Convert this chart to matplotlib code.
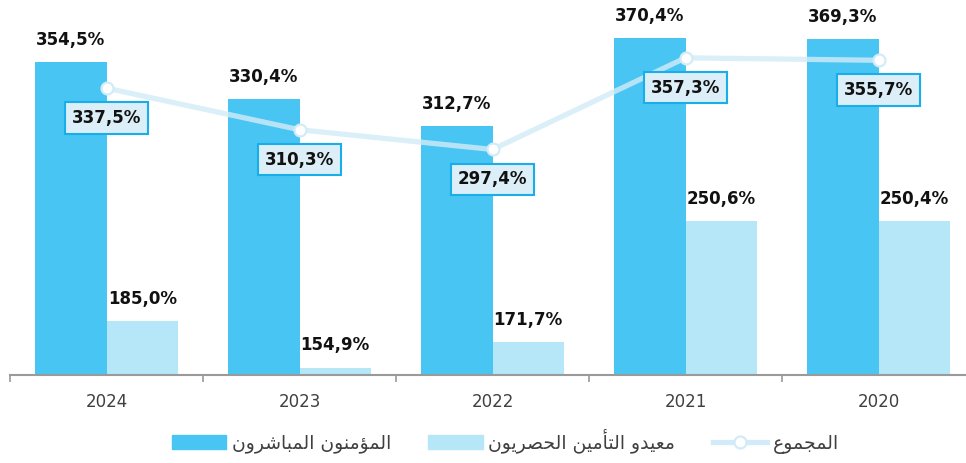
import matplotlib
matplotlib.use("Agg")
import matplotlib.pyplot as plt
import numpy as np
from matplotlib.lines import Line2D
from matplotlib.patches import Patch

years = ["2024", "2023", "2022", "2021", "2020"]
direct_insurers = [354.5, 330.4, 312.7, 370.4, 369.3]
exclusive_reinsurers = [185.0, 154.9, 171.7, 250.6, 250.4]
total = [337.5, 310.3, 297.4, 357.3, 355.7]
series_names = ["المؤمنون المباشرون", "معيدو التأمين الحصريون", "المجموع"]

DARK = "#48C5F3"
LIGHT = "#B5E7F9"
LINE = "#D2EBF8"
BOX_EDGE = "#17AEEA"
BOX_FACE = "#DCEEF7"
TEXT = "#404040"

# arabic letter forms: isolated, final, initial, medial (None = does not join forward)
_FORMS = {
    "\u0627": (0xFE8D, 0xFE8E, None, None),
    "\u0623": (0xFE83, 0xFE84, None, None),
    "\u0624": (0xFE85, 0xFE86, None, None),
    "\u0628": (0xFE8F, 0xFE90, 0xFE91, 0xFE92),
    "\u062A": (0xFE95, 0xFE96, 0xFE97, 0xFE98),
    "\u062C": (0xFE9D, 0xFE9E, 0xFE9F, 0xFEA0),
    "\u062D": (0xFEA1, 0xFEA2, 0xFEA3, 0xFEA4),
    "\u062F": (0xFEA9, 0xFEAA, None, None),
    "\u0631": (0xFEAD, 0xFEAE, None, None),
    "\u0634": (0xFEB5, 0xFEB6, 0xFEB7, 0xFEB8),
    "\u0635": (0xFEB9, 0xFEBA, 0xFEBB, 0xFEBC),
    "\u0639": (0xFEC9, 0xFECA, 0xFECB, 0xFECC),
    "\u0644": (0xFEDD, 0xFEDE, 0xFEDF, 0xFEE0),
    "\u0645": (0xFEE1, 0xFEE2, 0xFEE3, 0xFEE4),
    "\u0646": (0xFEE5, 0xFEE6, 0xFEE7, 0xFEE8),
    "\u0648": (0xFEED, 0xFEEE, None, None),
    "\u064A": (0xFEF1, 0xFEF2, 0xFEF3, 0xFEF4),
}


def shape_arabic(text):
    out = []
    n = len(text)
    for i, ch in enumerate(text):
        forms = _FORMS.get(ch)
        if forms is None:
            out.append(ch)
            continue
        prev_joins = i > 0 and text[i - 1] in _FORMS and _FORMS[text[i - 1]][2] is not None
        next_joins = i + 1 < n and text[i + 1] in _FORMS and forms[2] is not None
        if prev_joins and next_joins:
            code = forms[3]
        elif prev_joins:
            code = forms[1]
        elif next_joins:
            code = forms[2]
        else:
            code = forms[0]
        out.append(chr(code))
    return "".join(reversed(out))


def fmt(v):
    return f"{v:.1f}".replace(".", ",") + "%"


plt.rcParams["font.family"] = ["DejaVu Sans"]

fig = plt.figure(figsize=(9.66, 4.63), dpi=100)
ax = fig.add_axes([10 / 966, 88 / 463, 965 / 966, 375 / 463])

x = np.arange(len(years))
w = 0.37
ax.bar(x - w / 2, direct_insurers, w, color=DARK, zorder=2)
ax.bar(x + w / 2, exclusive_reinsurers, w, color=LIGHT, zorder=2)
ax.plot(x, total, color=LINE, lw=3.8, alpha=0.8, zorder=3, solid_capstyle="round")
ax.plot(x, total, ls="none", marker="o", ms=8.6, mfc="white", mec=LINE, mew=1.6, zorder=4)

for xi, v in zip(x, direct_insurers):
    ax.annotate(fmt(v), (xi - w / 2, v), xytext=(0, 16), textcoords="offset points",
                ha="center", va="center", fontsize=12, fontweight="bold", color="#111111")
for xi, v in zip(x, exclusive_reinsurers):
    ax.annotate(fmt(v), (xi + w / 2, v), xytext=(0, 16), textcoords="offset points",
                ha="center", va="center", fontsize=12, fontweight="bold", color="#111111")
for xi, v in zip(x, total):
    ax.annotate(fmt(v), (xi, v), xytext=(0, -21.5), textcoords="offset points",
                ha="center", va="center", fontsize=12, fontweight="bold", color="#111111",
                zorder=6,
                bbox=dict(boxstyle="square,pad=0.4", fc=BOX_FACE, ec=BOX_EDGE, lw=1.5))

ax.set_xlim(-0.5, len(years) - 0.5)
ax.set_ylim(150, 150 + 375 / 1.53)
ax.set_yticks([])
for s in ["left", "right", "top"]:
    ax.spines[s].set_visible(False)
ax.spines["bottom"].set_color("#9A9A9A")
ax.spines["bottom"].set_linewidth(1.5)

ax.set_xticks(x)
ax.set_xticklabels(years, fontsize=12, color=TEXT)
ax.tick_params(axis="x", which="major", length=0, pad=13)
ax.set_xticks(np.arange(len(years) + 1) - 0.5, minor=True)
ax.tick_params(axis="x", which="minor", length=5, width=1.2, color="#9A9A9A", direction="out")

handles = [
    Patch(color=DARK),
    Patch(color=LIGHT),
    Line2D([], [], color=LINE, lw=3.8, marker="o", ms=8.6, mfc="white", mec=LINE, mew=1.6),
]
fig.legend(handles, [shape_arabic(s) for s in series_names], loc="center",
           bbox_to_anchor=(0.523, 0.047), ncol=3, frameon=False, fontsize=13.5,
           handlelength=2.9, handleheight=0.75, handletextpad=0.3, columnspacing=2.0,
           labelcolor=TEXT)

fig.savefig("out.png", dpi=100)
